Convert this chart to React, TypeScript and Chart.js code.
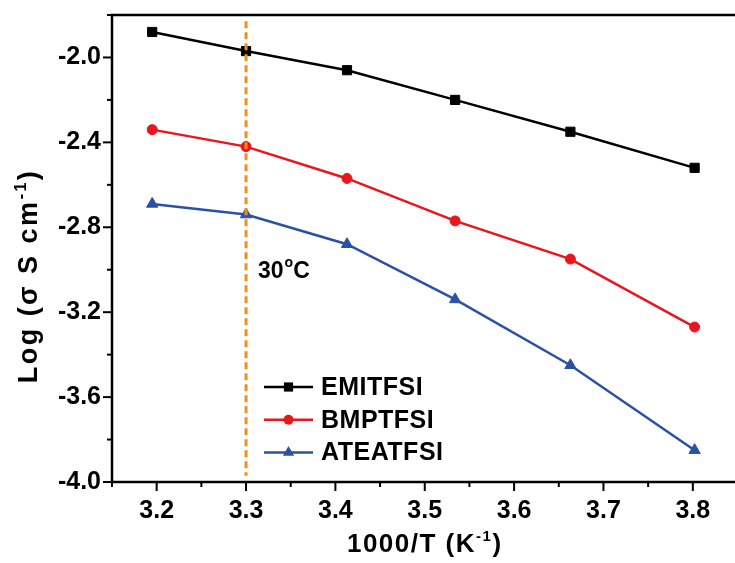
import React, { useEffect, useRef } from "react";
import { Chart, registerables } from "chart.js";

Chart.register(...registerables);

// ---- data ----
const xValues = [3.195, 3.3, 3.413, 3.534, 3.663, 3.802];
const emitfsi = [-1.88, -1.97, -2.06, -2.2, -2.35, -2.52];
const bmptfsi = [-2.34, -2.42, -2.57, -2.77, -2.95, -3.27];
const ateatfsi = [-2.69, -2.74, -2.88, -3.14, -3.45, -3.85];
const seriesNames = ["EMITFSI", "BMPTFSI", "ATEATFSI"];
const refLineX = [3.3, 3.3];
const refLineY = [-1.83, -3.97];
const refLabel = ["30", "o", "C"];
const xTitleParts = ["1000/T (K", "-1", ")"];
const yTitleParts = ["Log (\u03c3 S cm", "-1", ")"];

const FONT = "'Liberation Sans', Arial, Helvetica, sans-serif";
const BLACK = "#000000";
const RED = "#e8161d";
const BLUE = "#2a51a6";
const ORANGE = "#f28f1c";

const toPoints = (xs: number[], ys: number[]) => xs.map((x, i) => ({ x, y: ys[i] }));

const isMajorX = (v: number) => Math.round(v * 100) % 10 === 0;
const isMajorY = (v: number) => Math.round(v * 10) % 4 === 0;

function drawParts(
  ctx: CanvasRenderingContext2D,
  parts: string[],
  size: number,
  supSize: number,
  spacing: number,
  cx: number,
  baseY: number
) {
  ctx.letterSpacing = spacing + "px";
  ctx.font = `bold ${size}px ${FONT}`;
  const w0 = ctx.measureText(parts[0]).width;
  const w2 = ctx.measureText(parts[2]).width;
  ctx.font = `bold ${supSize}px ${FONT}`;
  const w1 = ctx.measureText(parts[1]).width;
  const total = w0 + w1 + w2;
  let x = cx - total / 2;
  ctx.textAlign = "left";
  ctx.textBaseline = "alphabetic";
  ctx.font = `bold ${size}px ${FONT}`;
  ctx.fillText(parts[0], x, baseY);
  x += w0;
  ctx.font = `bold ${supSize}px ${FONT}`;
  ctx.fillText(parts[1], x, baseY - size * 0.42);
  x += w1;
  ctx.font = `bold ${size}px ${FONT}`;
  ctx.fillText(parts[2], x, baseY);
  ctx.letterSpacing = "0px";
}

function drawMarker(ctx: CanvasRenderingContext2D, style: string, x: number, y: number, r: number) {
  ctx.beginPath();
  if (style === "rect") {
    const s = r * Math.SQRT1_2;
    ctx.rect(x - s, y - s, 2 * s, 2 * s);
  } else if (style === "triangle") {
    ctx.moveTo(x, y - r);
    ctx.lineTo(x + r * 0.866, y + r * 0.5);
    ctx.lineTo(x - r * 0.866, y + r * 0.5);
    ctx.closePath();
  } else {
    ctx.arc(x, y, r, 0, Math.PI * 2);
  }
  ctx.fill();
}

const decorPlugin = {
  id: "decor",
  afterDraw(chart: any) {
    const { ctx, chartArea: a, scales } = chart;
    const sx = scales.x;
    const sy = scales.y;
    ctx.save();
    ctx.strokeStyle = BLACK;
    ctx.lineWidth = 2.5;
    ctx.strokeRect(a.left, a.top, a.right - a.left, a.bottom - a.top);
    ctx.lineWidth = 2;
    sx.ticks.forEach((t: any) => {
      const px = sx.getPixelForValue(t.value);
      const len = isMajorX(t.value) ? 9 : 5;
      ctx.beginPath();
      ctx.moveTo(px, a.bottom);
      ctx.lineTo(px, a.bottom + len);
      ctx.stroke();
    });
    sy.ticks.forEach((t: any) => {
      const py = sy.getPixelForValue(t.value);
      const len = isMajorY(t.value) ? 9 : 5;
      ctx.beginPath();
      ctx.moveTo(a.left, py);
      ctx.lineTo(a.left - len, py);
      ctx.stroke();
    });

    ctx.fillStyle = BLACK;
    drawParts(ctx, xTitleParts, 26, 15, 1.5, (a.left + a.right) / 2, 552);
    ctx.save();
    ctx.translate(37, 276);
    ctx.rotate(-Math.PI / 2);
    drawParts(ctx, yTitleParts, 27, 16, 2.5, 0, 0);
    ctx.restore();

    const lx = sx.getPixelForValue(refLineX[0]) + 12;
    ctx.textAlign = "left";
    ctx.textBaseline = "alphabetic";
    ctx.font = `bold 23px ${FONT}`;
    ctx.fillText(refLabel[0], lx, 278);
    let w = ctx.measureText(refLabel[0]).width;
    ctx.font = `bold 14px ${FONT}`;
    ctx.fillText(refLabel[1], lx + w + 1, 267);
    w += ctx.measureText(refLabel[1]).width + 1;
    ctx.font = `bold 23px ${FONT}`;
    ctx.fillText(refLabel[2], lx + w, 278);

    const rows = [387, 419.7, 452.5];
    const lx0 = 264;
    const lx1 = 313;
    const datasets = chart.data.datasets.filter((d: any) => seriesNames.includes(d.label));
    datasets.forEach((d: any, i: number) => {
      const y = rows[i];
      ctx.strokeStyle = d.borderColor;
      ctx.lineWidth = d.borderWidth;
      ctx.beginPath();
      ctx.moveTo(lx0, y);
      ctx.lineTo(lx1, y);
      ctx.stroke();
      ctx.fillStyle = d.backgroundColor;
      drawMarker(ctx, d.pointStyle, (lx0 + lx1) / 2, y, d.pointRadius);
      ctx.fillStyle = BLACK;
      ctx.font = `bold 25px ${FONT}`;
      ctx.textAlign = "left";
      ctx.textBaseline = "middle";
      ctx.letterSpacing = "0.5px";
      ctx.fillText(d.label, 321, y + 1);
      ctx.letterSpacing = "0px";
    });
    ctx.restore();
  },
};

export default function App() {
  const canvasRef = useRef<HTMLCanvasElement | null>(null);

  useEffect(() => {
    const canvas = canvasRef.current;
    if (!canvas) return;
    const chart = new Chart(canvas, {
      type: "scatter",
      data: {
        datasets: [
          {
            label: "30C",
            data: toPoints(refLineX, refLineY),
            borderColor: ORANGE,
            backgroundColor: ORANGE,
            borderWidth: 3,
            borderDash: [7, 4],
            showLine: true,
            pointRadius: 0,
            order: 0,
          },
          {
            label: seriesNames[0],
            data: toPoints(xValues, emitfsi),
            borderColor: BLACK,
            backgroundColor: BLACK,
            borderWidth: 2.5,
            showLine: true,
            pointStyle: "rect",
            pointRadius: 6.5,
            pointBorderWidth: 1,
            pointBorderColor: BLACK,
            order: 1,
          },
          {
            label: seriesNames[1],
            data: toPoints(xValues, bmptfsi),
            borderColor: RED,
            backgroundColor: RED,
            borderWidth: 2.5,
            showLine: true,
            pointStyle: "circle",
            pointRadius: 5,
            pointBorderWidth: 1,
            pointBorderColor: RED,
            order: 2,
          },
          {
            label: seriesNames[2],
            data: toPoints(xValues, ateatfsi),
            borderColor: BLUE,
            backgroundColor: BLUE,
            borderWidth: 2.5,
            showLine: true,
            pointStyle: "triangle",
            pointRadius: 6.5,
            pointBorderWidth: 1,
            pointBorderColor: BLUE,
            order: 3,
          },
        ],
      },
      options: {
        animation: false,
        responsive: false,
        devicePixelRatio: 1,
        layout: { padding: { top: 15, right: 6, left: 0, bottom: 0 } },
        plugins: { legend: { display: false }, tooltip: { enabled: false } },
        elements: { line: { tension: 0 } },
        scales: {
          x: {
            type: "linear",
            min: 3.15,
            max: 3.85,
            border: { display: false },
            grid: { display: false, drawTicks: false },
            ticks: {
              stepSize: 0.05,
              autoSkip: false,
              maxRotation: 0,
              padding: 14,
              color: BLACK,
              font: { family: FONT, size: 25, weight: "bold" },
              callback: (v: any) => {
                const n = Number(v);
                return isMajorX(n) && n > 3.17 && n < 3.83 ? n.toFixed(1) : "";
              },
            },
            afterFit: (s: any) => {
              s.height = 81;
              s.paddingLeft = 0;
              s.paddingRight = 0;
            },
          },
          y: {
            type: "linear",
            min: -4.0,
            max: -1.8,
            border: { display: false },
            grid: { display: false, drawTicks: false },
            ticks: {
              stepSize: 0.2,
              autoSkip: false,
              padding: 11,
              color: BLACK,
              font: { family: FONT, size: 25, weight: "bold" },
              callback: (v: any) => {
                const n = Number(v);
                return isMajorY(n) && n < -1.9 ? n.toFixed(1) : "";
              },
            },
            afterFit: (s: any) => {
              s.width = 112;
              s.paddingTop = 0;
              s.paddingBottom = 0;
            },
          },
        },
      },
      plugins: [decorPlugin],
    } as any);
    return () => chart.destroy();
  }, []);

  return (
    <div
      style={{
        position: "fixed",
        left: 0,
        top: 0,
        width: 735,
        height: 563,
        overflow: "hidden",
        background: "#ffffff",
      }}
    >
      <canvas ref={canvasRef} width={745} height={563} style={{ width: 745, height: 563, display: "block" }} />
    </div>
  );
}
